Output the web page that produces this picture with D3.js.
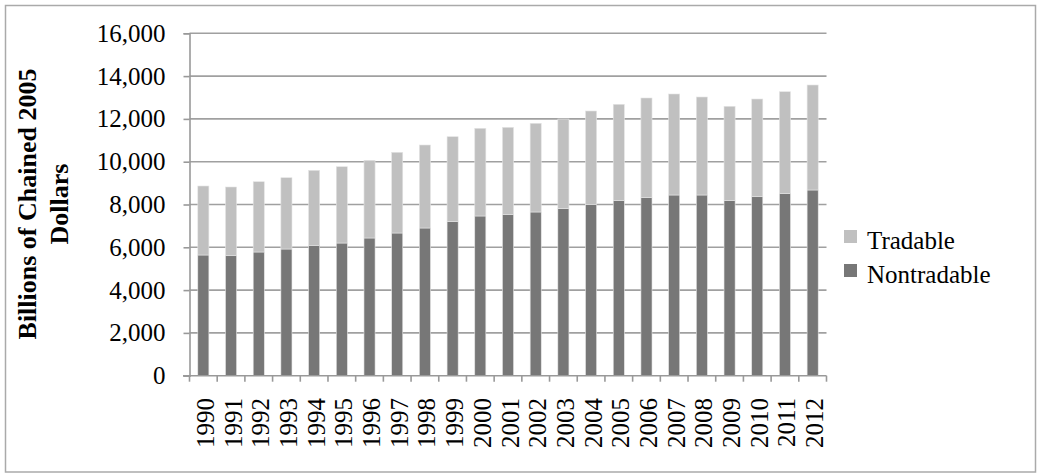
<!DOCTYPE html>
<html>
<head>
<meta charset="utf-8">
<script src="https://cdn.jsdelivr.net/npm/d3@7"></script>
<style>
  body { margin: 0; background: #fff; }
  svg { display: block; font-family: "Liberation Serif", "Times New Roman", serif; }
</style>
</head>
<body>
<svg id="chart" width="1037" height="474"></svg>
<script>
const years = ['1990','1991','1992','1993','1994','1995','1996','1997','1998','1999','2000',
  '2001','2002','2003','2004','2005','2006','2007','2008','2009','2010','2011','2012'];
const nontradable = [5640, 5607, 5780, 5920, 6093, 6200, 6435, 6668, 6902, 7197, 7463,
  7523, 7650, 7804, 7991, 8178, 8318, 8444, 8444, 8178, 8364, 8505, 8678];
const tradable = [3224, 3211, 3285, 3332, 3504, 3566, 3630, 3771, 3878, 3971, 4098,
  4084, 4144, 4191, 4378, 4504, 4659, 4720, 4579, 4411, 4566, 4766, 4906];
const yTicks = [0, 2000, 4000, 6000, 8000, 10000, 12000, 14000, 16000];
const seriesNames = ['Tradable', 'Nontradable'];
const colors = { Tradable: '#c0c0c0', Nontradable: '#777777' };

const svg = d3.select('#chart');

// outer frame
svg.append('rect')
  .attr('x', 5.5).attr('y', 5.5)
  .attr('width', 1030).attr('height', 466.5)
  .attr('fill', 'none').attr('stroke', '#aaa').attr('stroke-width', 1.5);

const x = d3.scaleBand().domain(years).range([189.5, 826.5]).paddingInner(0.6).paddingOuter(0.3);
const y = d3.scaleLinear().domain([0, 16000]).range([375.7, 33.3]);

// gridlines
svg.append('g').selectAll('line')
  .data(yTicks.slice(1))
  .join('line')
  .attr('x1', 189.5).attr('x2', 826.5)
  .attr('y1', d => y(d)).attr('y2', d => y(d))
  .attr('stroke', '#a0a0a0').attr('stroke-width', 1.6);

// stacked bars
const rows = years.map((yr, i) => ({ year: yr, Nontradable: nontradable[i], Tradable: tradable[i] }));
const stack = d3.stack().keys(['Nontradable', 'Tradable'])(rows);

svg.append('g').selectAll('g')
  .data(stack)
  .join('g')
  .attr('fill', d => colors[d.key])
  .selectAll('rect')
  .data(d => d)
  .join('rect')
  .attr('x', d => x(d.data.year))
  .attr('width', x.bandwidth())
  .attr('y', d => y(d[1]))
  .attr('height', d => y(d[0]) - y(d[1]))
  .attr('stroke', '#e4e4e4').attr('stroke-width', 0.6);

// y axis
const yAxis = svg.append('g')
  .attr('transform', 'translate(189.5,0)')
  .call(d3.axisLeft(y).tickValues(yTicks).tickSize(6).tickPadding(18)
    .tickFormat(d3.format(',')));
yAxis.select('.domain').attr('stroke', '#999').attr('stroke-width', 1.6);
yAxis.selectAll('.tick line').attr('stroke', '#999').attr('stroke-width', 1.6);
yAxis.selectAll('text').attr('font-size', 25).attr('fill', '#000')
  .attr('font-family', '"Liberation Serif", serif');

// x axis line and boundary ticks
const step = x.step();
const x0 = x.range()[0];
svg.append('line')
  .attr('x1', 183).attr('x2', 826.5)
  .attr('y1', y(0)).attr('y2', y(0))
  .attr('stroke', '#999').attr('stroke-width', 1.6);
svg.append('g').selectAll('line')
  .data(d3.range(years.length + 1))
  .join('line')
  .attr('x1', i => x0 + i * step).attr('x2', i => x0 + i * step)
  .attr('y1', y(0)).attr('y2', y(0) + 6)
  .attr('stroke', '#999').attr('stroke-width', 1.6);

// x labels, rotated
svg.append('g').selectAll('text')
  .data(years)
  .join('text')
  .attr('transform', d => `translate(${x(d) + x.bandwidth() / 2 + 10.5},398) rotate(-90)`)
  .attr('text-anchor', 'end')
  .attr('font-size', 25)
  .text(d => d);

// y axis title
const title = svg.append('text')
  .attr('transform', 'translate(0,204) rotate(-90)')
  .attr('text-anchor', 'middle')
  .attr('font-weight', 'bold')
  .attr('font-size', 26);
title.append('tspan').attr('x', 0).attr('y', 36).text('Billions of Chained 2005');
title.append('tspan').attr('x', 0).attr('y', 68).text('Dollars');

// legend
const legend = svg.append('g').selectAll('g')
  .data(seriesNames)
  .join('g')
  .attr('transform', (d, i) => `translate(844,${230 + i * 34})`);
legend.append('rect')
  .attr('width', 13).attr('height', 13)
  .attr('fill', d => colors[d]);
legend.append('text')
  .attr('x', 23).attr('y', 18.5)
  .attr('font-size', 25)
  .text(d => d);
</script>
</body>
</html>
